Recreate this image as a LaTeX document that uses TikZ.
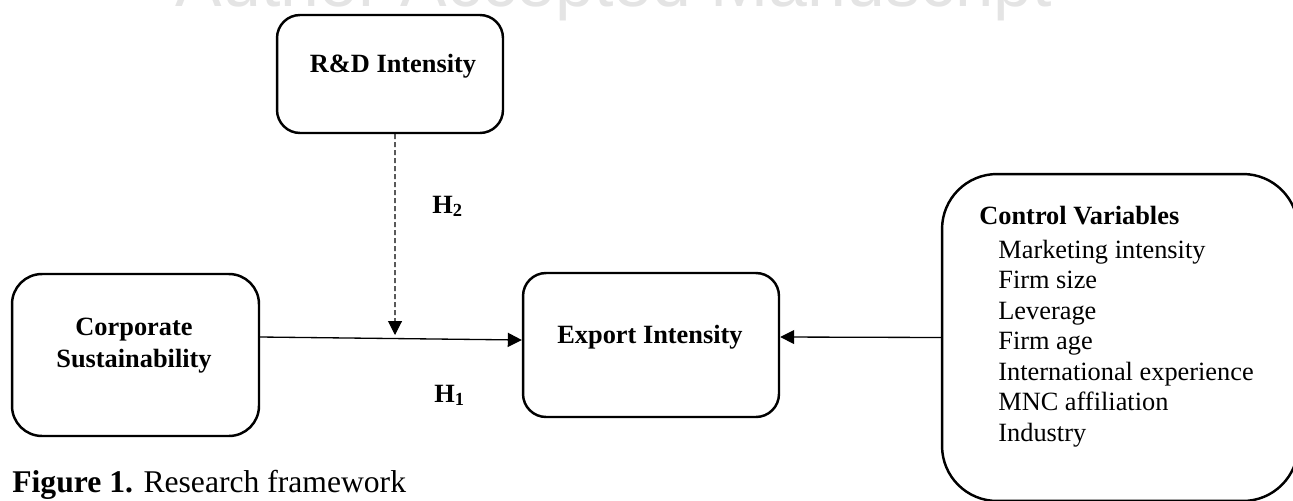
\documentclass[tikz,border=0pt]{standalone}
\usepackage{fontspec}
\setmainfont{Liberation Serif}
\newfontfamily\wmfont{Liberation Sans}
\usetikzlibrary{arrows.meta}
\definecolor{wmgray}{RGB}{228,228,228}
\tikzset{
  box/.style={draw, line width=1.4pt, inner sep=0pt},
  lbl/.style={font=\fontsize{15}{18}\selectfont\bfseries, inner sep=0pt},
  item/.style={font=\fontsize{15}{18}\selectfont, inner sep=0pt, anchor=base west},
  link/.style={line width=0.75pt, -{Triangle[length=0.28cm,width=0.28cm]}},
}

\begin{document}
\begin{tikzpicture}[x=0.02cm,y=-0.02cm]
\useasboundingbox (0,0) rectangle (1293,500);
% watermark, cut by the page edge
\node[font=\wmfont\fontsize{39.7}{40}\selectfont, text=wmgray, anchor=base, inner sep=0pt] (wm) at (614,7) {Author Accepted Manuscript};

% boxes
\node[box, rounded corners=0.46cm, minimum width=4.52cm, minimum height=2.36cm] (rd) at (390,74) {};
\node[box, rounded corners=0.6cm, minimum width=4.94cm, minimum height=3.24cm] (cs) at (135.5,355) {};
\node[box, rounded corners=0.46cm, minimum width=5.12cm, minimum height=2.88cm] (ex) at (651,345) {};
\node[box, rounded corners=1.1cm, minimum width=7.12cm, minimum height=6.54cm] (cv) at (1120,337.5) {};

% box texts
\node[lbl, anchor=base] (rdl) at (393,72) {R\&D Intensity};
\node[lbl, anchor=base] (csa) at (134,335) {Corporate};
\node[lbl, anchor=base] (csb) at (134,367) {Sustainability};
\node[lbl, anchor=base] (exl) at (650,343) {Export Intensity};
\node[lbl, anchor=base west] (cvh) at (979,224) {Control Variables};
\foreach \v [count=\i from 0] in {Marketing intensity, Firm size, Leverage, Firm age, International experience, MNC affiliation, Industry}
  \node[item] (cv\i) at (998,258+30.5*\i) {\v};

% hypotheses
\node[lbl, anchor=base west] (h2) at (432,213) {H\textsubscript{2}};
\node[lbl, anchor=base west] (h1) at (434,402) {H\textsubscript{1}};

% arrows
\coordinate (mod) at (395,335);
\draw[link] ([yshift=0.36cm]cs.east) -- ([yshift=0.1cm]ex.west);
\draw[link, line width=0.6pt, dash pattern=on 0.1cm off 0.06cm] ([xshift=0.1cm]rd.south) -- (mod);
\draw[link] (cv.west) -- ([yshift=0.16cm]ex.east);

% caption
\node[anchor=base west, inner sep=0pt, font=\fontsize{18}{21}\selectfont] (cap) at (12,492) {\textbf{Figure 1.} Research framework};
\end{tikzpicture}
\end{document}
